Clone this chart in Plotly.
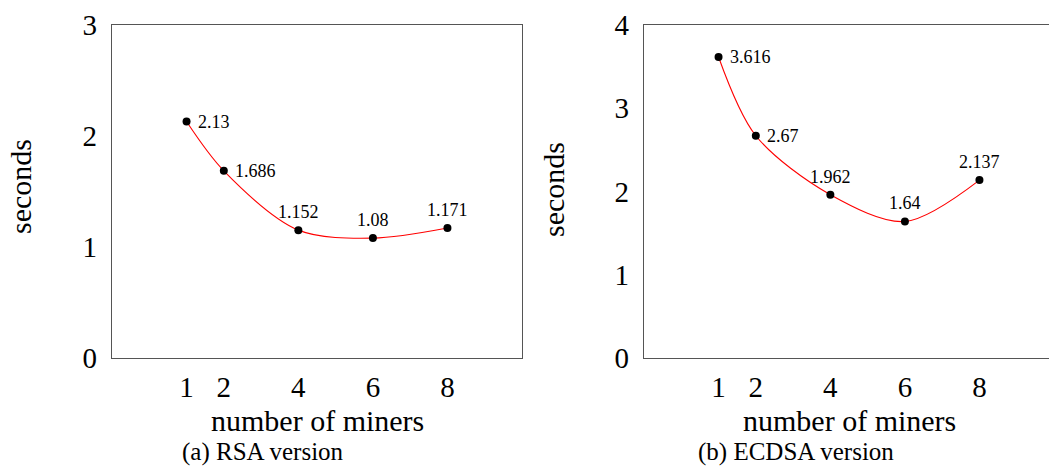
import plotly.graph_objects as go

miners = [1, 2, 4, 6, 8]
rsa_seconds = [2.13, 1.686, 1.152, 1.08, 1.171]
ecdsa_seconds = [3.616, 2.67, 1.962, 1.64, 2.137]
rsa_labels = ["2.13", "1.686", "1.152", "1.08", "1.171"]
ecdsa_labels = ["3.616", "2.67", "1.962", "1.64", "2.137"]
label_side = ["right", "right", "top", "top", "top"]

W, H = 1049, 475
FONT = "Liberation Serif, DejaVu Serif, serif"

fig = go.Figure()

def add_series(xref, yref, ys):
    fig.add_trace(go.Scatter(
        x=miners, y=ys, xaxis=xref, yaxis=yref,
        mode="lines+markers",
        line=dict(color="red", width=1.1, shape="spline", smoothing=0.9),
        marker=dict(color="black", size=8),
        showlegend=False, cliponaxis=False,
    ))

add_series("x", "y", rsa_seconds)
add_series("x2", "y2", ecdsa_seconds)

def px(x):
    return x / W

def py(y):
    return 1 - y / H

ydom = [py(358), py(25)]
axis_common = dict(
    showgrid=False, zeroline=False, showline=True, linecolor="#555", linewidth=1.4,
    ticks="", automargin=False, tickfont=dict(family=FONT, size=29, color="black"),
)

fig.update_layout(
    width=W, height=H,
    margin=dict(l=0, r=0, t=0, b=0, autoexpand=False),
    paper_bgcolor="white", plot_bgcolor="white",
    xaxis=dict(domain=[px(112), px(522)], range=[-1, 10], tickvals=miners,
               mirror=True, anchor="y", ticklabelstandoff=3, **axis_common),
    yaxis=dict(domain=ydom, range=[0, 3], tickvals=[0, 1, 2, 3],
               mirror=True, anchor="x", ticklabelstandoff=8, **axis_common),
    xaxis2=dict(domain=[px(644), 1.0], range=[-1, -1 + (W - 644) / (410 / 11)],
                tickvals=miners, mirror=True, anchor="y2", ticklabelstandoff=3, **axis_common),
    yaxis2=dict(domain=ydom, range=[0, 4], tickvals=[0, 1, 2, 3, 4],
                mirror=False, anchor="x2", ticklabelstandoff=8, **axis_common),
)

lab_font = dict(family=FONT, size=18, color="black")
ann_font = dict(family=FONT, size=30, color="black")
cap_font = dict(family=FONT, size=25, color="black")
annotations = []

for xr, yr, ys, labels in [("x", "y", rsa_seconds, rsa_labels), ("x2", "y2", ecdsa_seconds, ecdsa_labels)]:
    for xv, yv, lab, side in zip(miners, ys, labels, label_side):
        if side == "right":
            annotations.append(dict(text=lab, x=xv, y=yv, xref=xr, yref=yr, xanchor="left",
                                    yanchor="middle", xshift=9, showarrow=False, font=lab_font))
        else:
            annotations.append(dict(text=lab, x=xv, y=yv, xref=xr, yref=yr, xanchor="center",
                                    yanchor="bottom", yshift=6, showarrow=False, font=lab_font))

annotations += [
    dict(text="number of miners", x=px(317), y=py(420), xref="paper", yref="paper",
         xanchor="center", yanchor="middle", showarrow=False, font=ann_font),
    dict(text="number of miners", x=px(849), y=py(420), xref="paper", yref="paper",
         xanchor="center", yanchor="middle", showarrow=False, font=ann_font),
    dict(text="seconds", x=px(20), y=py(187), xref="paper", yref="paper", textangle=-90,
         xanchor="center", yanchor="middle", showarrow=False, font=ann_font),
    dict(text="seconds", x=px(553), y=py(190), xref="paper", yref="paper", textangle=-90,
         xanchor="center", yanchor="middle", showarrow=False, font=ann_font),
    dict(text="(a) RSA version", x=px(263), y=py(452), xref="paper", yref="paper",
         xanchor="center", yanchor="middle", showarrow=False, font=cap_font),
    dict(text="(b) ECDSA version", x=px(796), y=py(452), xref="paper", yref="paper",
         xanchor="center", yanchor="middle", showarrow=False, font=cap_font),
]
fig.update_layout(annotations=annotations)

fig.write_html("out.html")
